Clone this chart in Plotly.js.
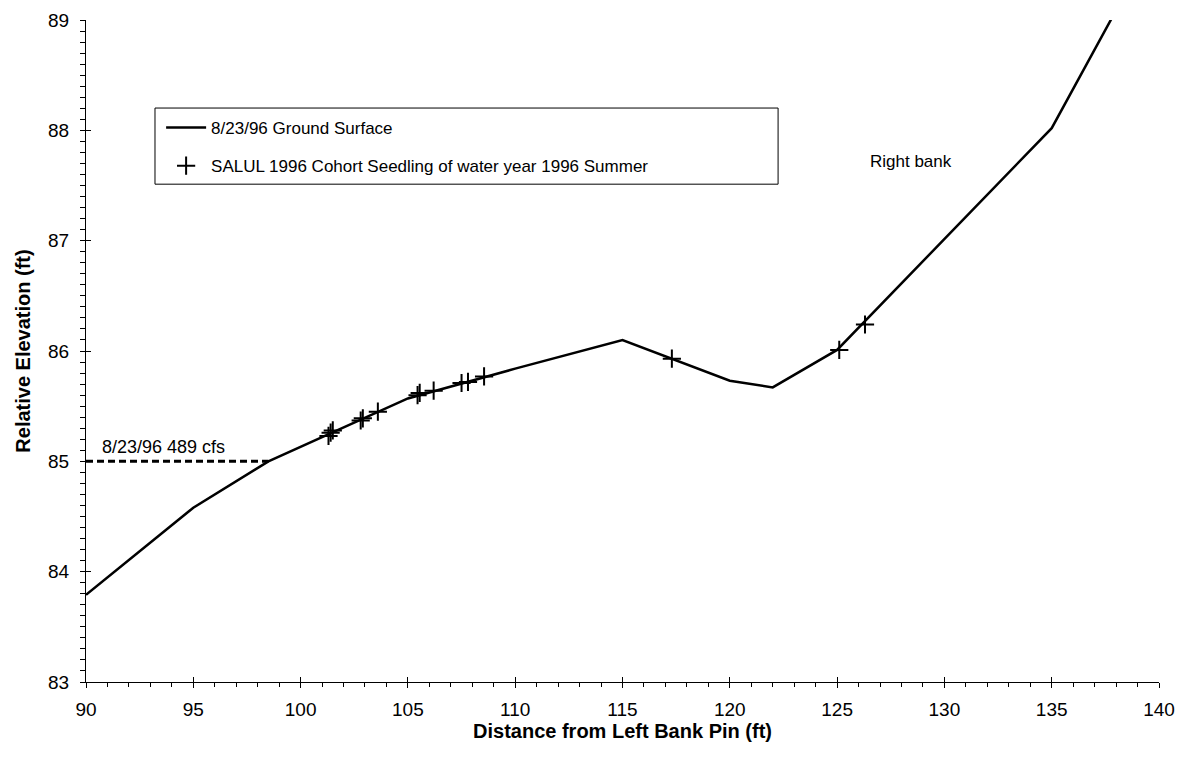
<!DOCTYPE html>
<html>
<head>
<meta charset="utf-8">
<script src="https://cdn.plot.ly/plotly-3.0.1.min.js"></script>
<style>html,body{margin:0;padding:0;background:#fff;}#chart{width:1181px;height:767px;}</style>
</head>
<body>
<div id="chart"></div>
<script>
// Ground surface profile (8/23/96)
const groundX = [90, 95, 98.5, 100, 105, 110, 115, 120, 122, 125, 135, 140];
const groundY = [83.79, 84.58, 85.0, 85.13, 85.57, 85.84, 86.1, 85.73, 85.67, 86.01, 88.02, 89.8];

// SALUL 1996 cohort seedlings
const seedX = [101.3, 101.4, 101.5, 102.8, 102.9, 103.6, 105.45, 105.55, 106.2, 107.5, 107.8, 108.55, 117.3, 125.1, 126.3];
const seedY = [85.23, 85.26, 85.28, 85.37, 85.39, 85.45, 85.6, 85.62, 85.64, 85.71, 85.72, 85.77, 85.93, 86.01, 86.24];

// Water surface 8/23/96 489 cfs
const waterX = [90, 98.5];
const waterY = [85, 85];

const lineName = "8/23/96 Ground Surface";
const seedName = "SALUL 1996 Cohort Seedling of water year 1996 Summer";
const waterLabel = "8/23/96 489 cfs";
const bankLabel = "Right bank";

const font = "Liberation Sans, Arial, sans-serif";

const traces = [
  {x: groundX, y: groundY, mode: "lines", name: lineName, legendgroup: "a",
   line: {color: "#000", width: 2.5}},
  {x: seedX, y: seedY, mode: "markers", name: seedName, legendgroup: "b",
   marker: {symbol: "cross-thin-open", size: 13, color: "#000", line: {color: "#000", width: 2}}},
  {x: waterX, y: waterY, mode: "lines", showlegend: false,
   line: {color: "#000", width: 3, dash: "7px,4px"}},
  {x: [], y: [], xaxis: "x2", yaxis: "y2", showlegend: false, mode: "markers"}
];

const layout = {
  width: 1181, height: 767,
  margin: {l: 86, r: 22, t: 20, b: 85},
  paper_bgcolor: "#fff", plot_bgcolor: "#fff",
  font: {family: font, color: "#000", size: 18},
  showlegend: true,
  xaxis: {
    range: [90, 140], dtick: 5, tick0: 90, showgrid: false, zeroline: false,
    showline: true, linecolor: "#000", linewidth: 1,
    ticks: "outside", ticklen: 5, tickwidth: 1, tickcolor: "#000",
    minor: {dtick: 1, ticks: "outside", ticklen: 4, tickcolor: "#000", showgrid: false},
    tickfont: {size: 19, family: font}, ticklabelstandoff: 5,
    title: {text: "Distance from Left Bank Pin (ft)", font: {size: 20, family: font, weight: "bold"}, standoff: 2}
  },
  yaxis: {
    range: [83, 89], dtick: 1, tick0: 83, showgrid: false, zeroline: false,
    showline: true, linecolor: "#000", linewidth: 1,
    ticks: "outside", ticklen: 5, tickwidth: 1, tickcolor: "#000",
    minor: {dtick: 0.1, ticks: "outside", ticklen: 5, tickcolor: "#000", showgrid: false},
    tickfont: {size: 19, family: font}, ticklabelstandoff: 7,
    title: {text: "Relative Elevation (ft)", font: {size: 20, family: font, weight: "bold"}, standoff: 12}
  },
  xaxis2: {range: [90, 140], dtick: 5, tick0: 90, overlaying: "x", anchor: "y2", side: "bottom",
    showgrid: false, zeroline: false, showline: false, showticklabels: false,
    ticks: "inside", ticklen: 5, tickcolor: "#000"},
  yaxis2: {range: [83, 89], dtick: 1, tick0: 83, overlaying: "y", anchor: "x2", side: "left",
    showgrid: false, zeroline: false, showline: false, showticklabels: false,
    ticks: "inside", ticklen: 5, tickcolor: "#000"},
  legend: {
    x: 0.07, y: 0.864, xanchor: "left", yanchor: "top",
    bgcolor: "rgba(0,0,0,0)", borderwidth: 0, itemwidth: 40,
    font: {size: 17, family: font}, tracegroupgap: 13
  },
  shapes: [
    {type: "rect", xref: "paper", yref: "paper", x0: 0.0643, x1: 0.645, y0: 0.752, y1: 0.867,
     line: {color: "#000", width: 1}, fillcolor: "rgba(0,0,0,0)", layer: "below"}
  ],
  annotations: [
    {x: 90.65, y: 85, xref: "x", yref: "y", text: waterLabel, showarrow: false,
     xanchor: "left", yanchor: "bottom", yshift: 2, font: {size: 18, family: font}},
    {x: 128.45, y: 87.72, xref: "x", yref: "y", text: bankLabel, showarrow: false,
     xanchor: "center", yanchor: "middle", font: {size: 17, family: font}}
  ]
};

Plotly.newPlot("chart", traces, layout, {displayModeBar: false, staticPlot: true});
</script>
</body>
</html>
